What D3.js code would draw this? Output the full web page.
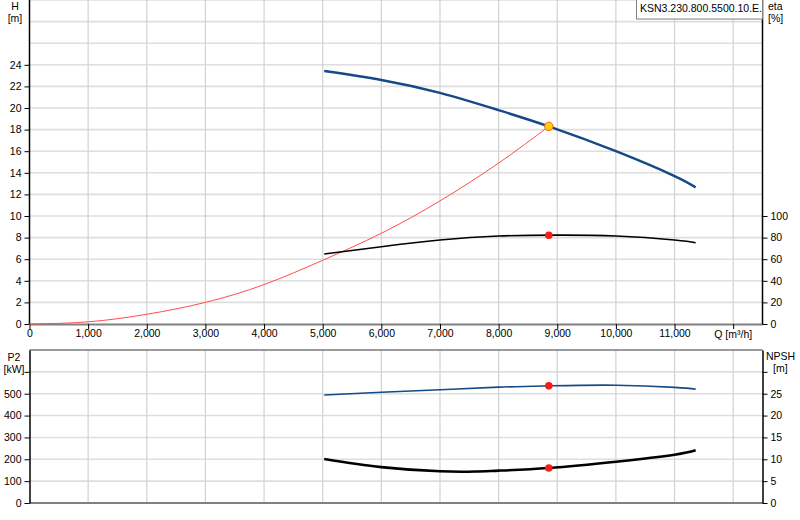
<!DOCTYPE html>
<html>
<head>
<meta charset="utf-8">
<script src="https://cdn.jsdelivr.net/npm/d3@7"></script>
<style>
  body { margin: 0; background: #fff; }
  svg { display: block; font-family: "Liberation Sans", Arial, sans-serif; }
  .tick text { font-size: 10.5px; fill: #000; }
</style>
</head>
<body>
<svg id="chart"></svg>
<script>
// curve data
const qTicks = [0, 1000, 2000, 3000, 4000, 5000, 6000, 7000, 8000, 9000, 10000, 11000, 12000];
const hTicks = [0, 2, 4, 6, 8, 10, 12, 14, 16, 18, 20, 22, 24];
const etaTicks = [0, 20, 40, 60, 80, 100];
const p2Ticks = [0, 100, 200, 300, 400, 500, 600];
const npshTicks = [0, 5, 10, 15, 20, 25, 30];

const headQ = [5026, 6000, 7000, 8000, 8856, 10000, 11000, 11360];
const headH = [23.43, 22.6, 21.4, 19.8, 18.3, 16.0, 13.7, 12.65];

const sysQ = [0, 1000, 2000, 3000, 4000, 5000, 6000, 7000, 8000, 8856];
const sysH = [0, 0.2, 0.9, 2.0, 3.65, 5.9, 8.4, 11.4, 14.9, 18.3];

const etaQ = [5026, 6000, 7000, 8000, 9000, 10000, 11000, 11360];
const etaV = [64.8, 71.6, 77.8, 81.5, 82.3, 81.5, 77.8, 75.3];

const p2Q = [5026, 6000, 7000, 8000, 8856, 10000, 11000, 11360];
const p2V = [494, 507, 518, 530, 536, 539, 529, 521];

const npshQ = [5026, 6000, 7000, 7600, 8000, 8856, 10000, 11000, 11360];
const npshV = [10.07, 8.2, 7.25, 7.2, 7.4, 8.0, 9.45, 11.05, 12.05];

const dutyQ = 8856, dutyH = 18.3, dutyEta = 82.2, dutyP2 = 536, dutyNpsh = 8.0;
const modelName = "KSN3.230.800.5500.10.E.";

const width = 800, height = 520;
const svg = d3.select("#chart").attr("width", width).attr("height", height);

const x = d3.scaleLinear().domain([0, 12500]).range([29.5, 762.5]);
const yH = d3.scaleLinear().domain([0, 30]).range([324, 0]);
const yEta = d3.scaleLinear().domain([0, 100]).range([324, 216]);
const yP2 = d3.scaleLinear().domain([0, 700]).range([503, 350]);
const yNpsh = d3.scaleLinear().domain([0, 35]).range([503, 350]);

const gridQ = qTicks.filter(d => d > 0);

// grids
function grid(yScale, values, top, bottom) {
    const g = svg.append("g");
    g.selectAll(".hg").data(values).enter().append("line")
        .attr("x1", x(0)).attr("x2", x(12500))
        .attr("y1", d => yScale(d)).attr("y2", d => yScale(d))
        .attr("stroke", "#dedede").attr("stroke-width", 1.6);
    g.selectAll(".vg").data(gridQ).enter().append("line")
        .attr("x1", d => x(d)).attr("x2", d => x(d))
        .attr("y1", top).attr("y2", bottom)
        .attr("stroke", "#d2d2d2").attr("stroke-width", 1.2);
}
grid(yH, d3.range(2, 31, 2), 0, 324);
grid(yP2, d3.range(100, 701, 100), 350, 503);

// top border of lower panel
svg.append("line").attr("x1", x(0)).attr("x2", x(12500))
    .attr("y1", 350).attr("y2", 350).attr("stroke", "#808080").attr("stroke-width", 1.5);

function styleAxis(g, color, w) {
    g.select(".domain").attr("stroke", color).attr("stroke-width", w);
    g.selectAll(".tick line").attr("stroke", "#000");
}

// x axis (top panel)
const xAxis = svg.append("g").attr("transform", "translate(0,324)")
    .call(d3.axisBottom(x).tickValues(qTicks).tickSize(5).tickSizeOuter(0)
        .tickFormat(d => d === 12000 ? "" : d3.format(",")(d)));
styleAxis(xAxis, "#808080", 2);
xAxis.selectAll(".tick text").attr("dy", "0.5em");

svg.append("text").attr("x", x(12000)).attr("y", 338).attr("text-anchor", "middle")
    .style("font-size", "10.5px").text("Q [m³/h]");

// lower panel baseline
svg.append("line").attr("x1", x(0)).attr("x2", x(12500))
    .attr("y1", 503).attr("y2", 503).attr("stroke", "#808080").attr("stroke-width", 2);

// y axes
const hAxis = svg.append("g").attr("transform", `translate(${x(0)},0)`)
    .call(d3.axisLeft(yH).tickValues(hTicks).tickSize(5).tickSizeOuter(0).tickFormat(d3.format("d")));
hAxis.select(".domain").attr("d", `M0,0V324`);
styleAxis(hAxis, "#000", 1.5);

const etaAxis = svg.append("g").attr("transform", `translate(${x(12500)},0)`)
    .call(d3.axisRight(yEta).tickValues(etaTicks).tickSize(5).tickSizeOuter(0));
etaAxis.select(".domain").attr("d", `M0,0V324`);
styleAxis(etaAxis, "#000", 1.5);

const p2Axis = svg.append("g").attr("transform", `translate(${x(0)},0)`)
    .call(d3.axisLeft(yP2).tickValues(p2Ticks).tickSize(5).tickSizeOuter(0)
        .tickFormat(d => d === 600 ? "" : d));
styleAxis(p2Axis, "#000", 1.5);

const npAxis = svg.append("g").attr("transform", `translate(${x(12500)},0)`)
    .call(d3.axisRight(yNpsh).tickValues(npshTicks).tickSize(5).tickSizeOuter(0)
        .tickFormat(d => d === 30 ? "" : d));
styleAxis(npAxis, "#000", 1.5);

// axis titles
function label(txt, xp, yp, anchor) {
    svg.append("text").attr("x", xp).attr("y", yp).attr("text-anchor", anchor)
        .style("font-size", "10.5px").text(txt);
}
label("H", 15, 10, "middle");
label("[m]", 15, 22, "middle");
label("eta", 768, 10, "start");
label("[%]", 768, 22, "start");
label("P2", 14, 361, "middle");
label("[kW]", 14, 373, "middle");
label("NPSH", 766, 360, "start");
label("[m]", 773, 372, "start");

// curves
const zip = (qs, vs) => qs.map((q, i) => [q, vs[i]]);
function curve(data, yScale, color, w) {
    svg.append("path").datum(data)
        .attr("fill", "none").attr("stroke", color).attr("stroke-width", w)
        .attr("stroke-linejoin", "round")
        .attr("d", d3.line().x(d => x(d[0])).y(d => yScale(d[1])).curve(d3.curveNatural));
}
curve(zip(sysQ, sysH), yH, "#ff4d4d", 1);
curve(zip(headQ, headH), yH, "#154a86", 2.5);
curve(zip(etaQ, etaV), yEta, "#000", 1.6);
curve(zip(p2Q, p2V), yP2, "#154a86", 1.6);
curve(zip(npshQ, npshV), yNpsh, "#000", 2.6);

// duty point markers
function dot(yScale, v, fill, stroke, r) {
    svg.append("circle").attr("cx", x(dutyQ)).attr("cy", yScale(v)).attr("r", r)
        .attr("fill", fill).attr("stroke", stroke).attr("stroke-width", stroke === "none" ? 0 : 1);
}
dot(yH, dutyH, "#ffd400", "#ff5a1f", 4.2);
dot(yEta, dutyEta, "#ff1a1a", "none", 3.8);
dot(yP2, dutyP2, "#ff1a1a", "none", 3.8);
dot(yNpsh, dutyNpsh, "#ff1a1a", "none", 3.8);

// model legend box
svg.append("rect").attr("x", 636.5).attr("y", -1).attr("width", 126).attr("height", 20)
    .attr("fill", "#fff").attr("stroke", "#808080").attr("stroke-width", 1);
svg.append("text").attr("x", 640).attr("y", 12).style("font-size", "10.5px").text(modelName);
</script>
</body>
</html>
